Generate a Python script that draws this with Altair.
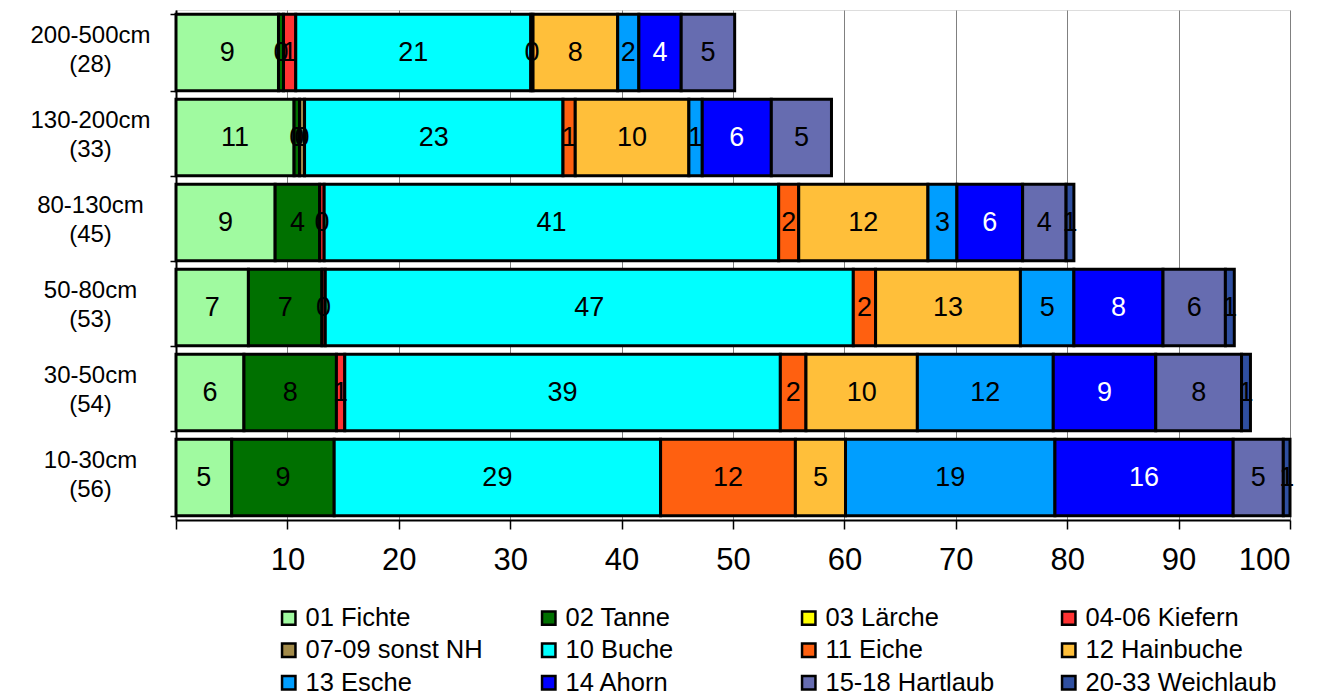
import altair as alt
import pandas as pd

classes = ["200-500cm", "130-200cm", "80-130cm", "50-80cm", "30-50cm", "10-30cm"]
counts = [28, 33, 45, 53, 54, 56]

species = ["01 Fichte", "02 Tanne", "03 Lärche", "04-06 Kiefern", "07-09 sonst NH",
           "10 Buche", "11 Eiche", "12 Hainbuche", "13 Esche", "14 Ahorn",
           "15-18 Hartlaub", "20-33 Weichlaub"]
colors = ["#A0FAA0", "#007000", "#FFFF00", "#FF3333", "#A38B4A", "#00FFFF",
          "#FF6010", "#FFBF3A", "#009EFF", "#0000FF", "#666CB0", "#2F4FA0"]

fichte = [9.2, 10.6, 8.9, 6.5, 6.1, 5.0]
tanne = [0.45, 0.49, 4.0, 6.6, 8.3, 9.2]
laerche = [0, 0, 0, 0, 0, 0]
kiefern = [1.1, 0, 0.4, 0.3, 0.75, 0]
sonst_nh = [0, 0.45, 0, 0, 0, 0]
buche = [21.1, 23.2, 40.8, 47.4, 39.1, 29.3]
eiche = [0.2, 1.1, 1.8, 2.0, 2.3, 12.1]
hainbuche = [7.6, 10.2, 11.6, 13.0, 10.0, 4.5]
esche = [1.9, 1.2, 2.6, 4.8, 12.2, 18.8]
ahorn = [3.8, 6.2, 5.9, 8.0, 9.2, 16.0]
hartlaub = [4.8, 5.4, 3.9, 5.6, 7.7, 4.5]
weichlaub = [0, 0, 0.7, 0.8, 0.8, 0.6]

series = [fichte, tanne, laerche, kiefern, sonst_nh, buche, eiche, hainbuche,
          esche, ahorn, hartlaub, weichlaub]

cls_full = [f"{c}|({n})" for c, n in zip(classes, counts)]

rows = []
for i, c in enumerate(cls_full):
    for j, (name, arr) in enumerate(zip(species, series)):
        if arr[i] > 0:
            rows.append({"cls": c, "species": name, "idx": j, "value": arr[i]})
df = pd.DataFrame(rows)

FONT = "Liberation Sans"

base = alt.Chart(df).transform_window(
    x1="sum(value)", groupby=["cls"], sort=[alt.SortField("idx", order="ascending")],
    frame=[None, 0]
).transform_calculate(
    x0="datum.x1 - datum.value",
    mid="datum.x1 - datum.value / 2",
    lab="format(datum.value, '.0f')"
)

yscale = alt.Scale(domain=cls_full, paddingInner=0.1, paddingOuter=0.05)
xscale = alt.Scale(domain=[0, 100], nice=False, zero=True)

yaxis = alt.Axis(
    labelExpr="split(datum.label, '|')",
    labelFontSize=24, labelFont=FONT, labelColor="black",
    labelAlign="center", labelBaseline="middle", labelLineHeight=29,
    labelPadding=80, labelOffset=-17,
    tickBand="extent", tickSize=6, tickColor="black", tickWidth=1.5,
    domainColor="black", domainWidth=2, grid=False,
    minExtent=163, maxExtent=163,
)
xaxis = alt.Axis(values=list(range(0, 101, 10)), orient="bottom",
                 labelExpr="datum.value == 0 ? '' : datum.label",
                 labelFontSize=31, labelFont=FONT, labelColor="black",
                 labelPadding=16, tickSize=9, tickColor="black", tickWidth=1.5,
                 domainColor="black", domainWidth=2,
                 grid=True, gridColor="#808080", gridWidth=1)

bars = base.mark_bar(stroke="black", strokeWidth=3).encode(
    y=alt.Y("cls:N", title=None, scale=yscale, axis=yaxis),
    x=alt.X("x0:Q", title=None, scale=xscale, axis=xaxis),
    x2="x1:Q",
    color=alt.Color("species:N",
                    scale=alt.Scale(domain=species, range=colors),
                    legend=alt.Legend(title=None, orient="none", legendX=100, legendY=595,
                                      direction="horizontal",
                                      columns=4, gridAlign="all", columnPadding=39,
                                      rowPadding=5.5, labelFontSize=25.5, labelFont=FONT,
                                      labelColor="black", symbolType="square", symbolSize=180,
                                      symbolStrokeColor="black", symbolStrokeWidth=2.5,
                                      labelOffset=4, padding=0, labelLimit=400)),
)

text = base.mark_text(fontSize=27, font=FONT, baseline="middle", align="center").encode(
    y=alt.Y("cls:N", title=None, scale=yscale, axis=yaxis),
    x=alt.X("mid:Q", title=None, scale=xscale, axis=xaxis),
    text="lab:N",
    color=alt.condition(alt.datum.species == "14 Ahorn", alt.value("white"), alt.value("black")),
)

chart = alt.layer(bars, text).properties(
    width=1114, height=510,
    padding={"left": 5, "top": -10, "right": 5, "bottom": 0},
).configure_view(stroke="#888888", strokeWidth=2).configure(background="white")

chart.save("out.html", embed_options={"renderer": "svg", "actions": False})
